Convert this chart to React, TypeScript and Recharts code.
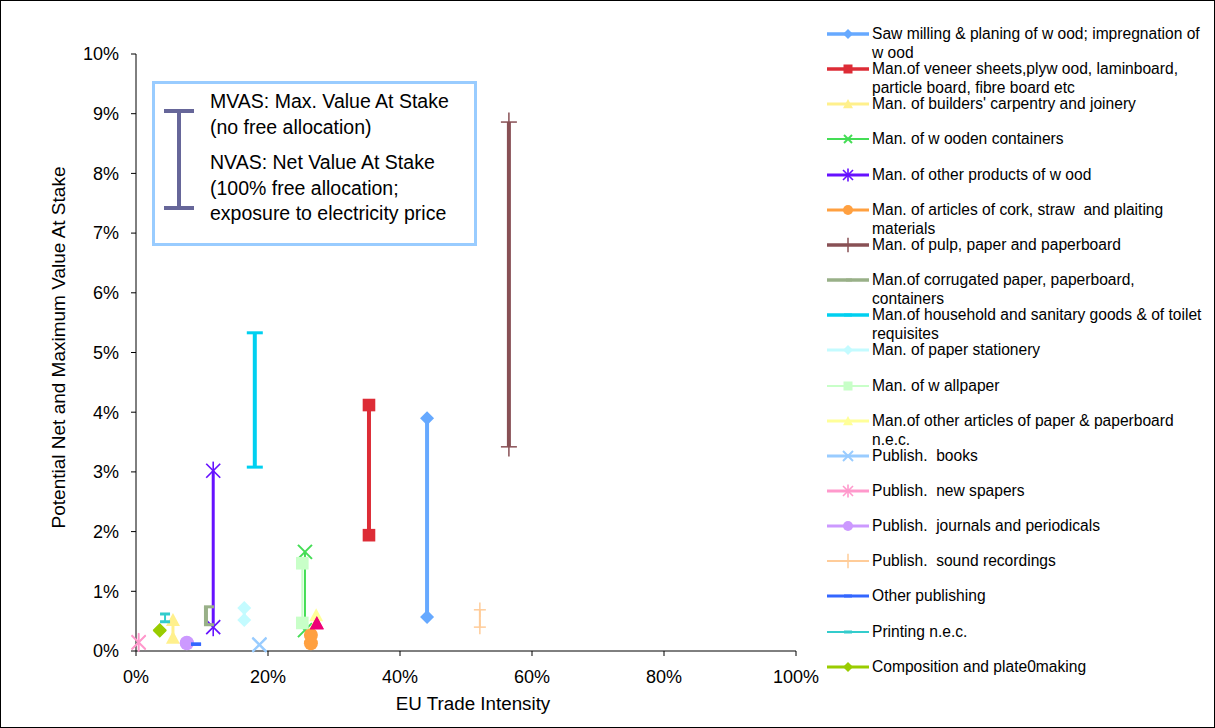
import React from "react"
import { ScatterChart, Scatter, XAxis, YAxis, Legend } from "recharts"

// sectors, as shown in the legend (last one has no legend entry)
const sectors = [
  "Saw milling & planing of w ood; impregnation of\nw ood",
  "Man.of veneer sheets,plyw ood, laminboard,\nparticle board, fibre board etc",
  "Man. of builders' carpentry and joinery",
  "Man. of w ooden containers",
  "Man. of other products of w ood",
  "Man. of articles of cork, straw  and plaiting\nmaterials",
  "Man. of pulp, paper and paperboard",
  "Man.of corrugated paper, paperboard,\ncontainers",
  "Man.of household and sanitary goods & of toilet\nrequisites",
  "Man. of paper stationery",
  "Man. of w allpaper",
  "Man.of other articles of paper & paperboard\nn.e.c.",
  "Publish.  books",
  "Publish.  new spapers",
  "Publish.  journals and periodicals",
  "Publish.  sound recordings",
  "Other publishing",
  "Printing n.e.c.",
  "Composition and plate0making",
  "",
]

const tradeIntensity = [
  0.441, 0.353, 0.056, 0.256, 0.117, 0.265, 0.565, 0.106, 0.18, 0.164,
  0.252, 0.273, 0.187, 0.004, 0.077, 0.521, 0.091, 0.044, 0.036, 0.274,
]
// NVAS (lower end) and MVAS (upper end)
const nvas = [
  0.0057, 0.0194, 0.0022, 0.0035, 0.004, 0.0013, 0.0342, 0.0044, 0.0308, 0.0052,
  0.0047, 0.0047, 0.001, 0.0014, 0.0013, 0.004, 0.0011, 0.0049, 0.0034, 0.0046,
]
const mvas = [
  0.039, 0.0412, 0.0052, 0.0166, 0.0302, 0.0027, 0.0886, 0.0074, 0.0533, 0.0072,
  0.0147, 0.006, 0.0011, 0.0015, 0.0014, 0.0069, 0.0012, 0.0062, 0.0035, 0.0047,
]

const xTicks = [0, 0.2, 0.4, 0.6, 0.8, 1]
const yTicks = [0, 0.01, 0.02, 0.03, 0.04, 0.05, 0.06, 0.07, 0.08, 0.09, 0.1]

const colors = [
  "#66a9ff", "#dd2c36", "#fff08c", "#44dd55", "#6611ff", "#ffa040", "#885055",
  "#99b088", "#00d0f0", "#c4fbff", "#c8ffc8", "#ffff99", "#99ccff", "#ff99cc",
  "#cc99ff", "#ffcc99", "#3366ff", "#33cccc", "#99cc00", "#ee0077",
]
const markers = [
  "diamond", "square", "triangle", "x", "star", "circle", "plus", "bracket",
  "dash", "diamond", "square", "triangle", "x", "star", "circle", "plus",
  "dash", "dash", "diamond", "triangle",
]
const lineWidths = [4, 4, 3, 2, 3, 3, 4, 4, 4, 3, 2, 3, 3, 3, 3, 2, 3, 2, 3, 3]

const font = "'Liberation Sans', Arial, sans-serif"

const Marker = ({ type, cx, cy, color, s }: any) => {
  switch (type) {
    case "diamond":
      return <polygon points={`${cx},${cy - s} ${cx + s},${cy} ${cx},${cy + s} ${cx - s},${cy}`} fill={color} />
    case "square":
      return <rect x={cx - s * 0.9} y={cy - s * 0.9} width={s * 1.8} height={s * 1.8} fill={color} />
    case "triangle":
      return <polygon points={`${cx},${cy - s} ${cx + s},${cy + s * 0.85} ${cx - s},${cy + s * 0.85}`} fill={color} />
    case "x":
      return (
        <g stroke={color} strokeWidth={2}>
          <line x1={cx - s} y1={cy - s} x2={cx + s} y2={cy + s} />
          <line x1={cx - s} y1={cy + s} x2={cx + s} y2={cy - s} />
        </g>
      )
    case "star":
      return (
        <g stroke={color} strokeWidth={1.6}>
          <line x1={cx - s} y1={cy - s} x2={cx + s} y2={cy + s} />
          <line x1={cx - s} y1={cy + s} x2={cx + s} y2={cy - s} />
          <line x1={cx} y1={cy - s * 1.3} x2={cx} y2={cy + s * 1.3} />
        </g>
      )
    case "circle":
      return <circle cx={cx} cy={cy} r={s} fill={color} />
    case "plus":
      return (
        <g stroke={color} strokeWidth={1.5}>
          <line x1={cx - s} y1={cy} x2={cx + s} y2={cy} />
          <line x1={cx} y1={cy - s * 1.2} x2={cx} y2={cy + s * 1.2} />
        </g>
      )
    case "bracket":
      return <rect x={cx - 2} y={cy - 1.5} width={s + 2} height={3} fill={color} />
    default:
      return <rect x={cx - s} y={cy - 1.5} width={s * 2} height={3} fill={color} />
  }
}

const legendMarkerSize = [5, 5, 5, 4, 5, 5, 6, 4, 4, 5, 5, 5, 5, 5, 5, 6, 4, 4, 5]

const LegendBox = () => (
  <div style={{ position: "relative", fontFamily: font, fontSize: 15.6, color: "#000" }}>
    {sectors.slice(0, 19).map((name, i) => {
      const cy = 33 + i * 35.15
      return (
        <div key={name} style={{ position: "absolute", left: 0, top: cy - 10 }}>
          <svg width={42} height={20} style={{ position: "absolute", left: 0, top: 0 }}>
            <line x1={0} y1={10} x2={42} y2={10} stroke={colors[i]} strokeWidth={Math.min(lineWidths[i], 3.5)} />
            <Marker type={markers[i]} cx={21} cy={10} color={colors[i]} s={legendMarkerSize[i]} />
          </svg>
          <div style={{ position: "absolute", left: 45, top: 0, lineHeight: "19px", whiteSpace: "pre" }}>{name}</div>
        </div>
      )
    })}
  </div>
)

const markerSize = [7, 7, 7, 7, 7, 7, 8, 8, 8, 7, 7, 7, 7, 7, 7, 6, 5, 5, 7, 7]

const pct = (v: number) => `${Math.round(v * 100)}%`

export default function App() {
  return (
    <div
      style={{
        position: "absolute",
        left: 0,
        top: 0,
        width: 1213,
        height: 726,
        border: "1px solid #000",
        background: "#fff",
        fontFamily: font,
      }}
    >
      <ScatterChart width={1213} height={726} margin={{ top: 53, right: 418, bottom: 0, left: 0 }}>
        <XAxis
          type="number"
          dataKey="x"
          domain={[0, 1]}
          ticks={xTicks}
          tickFormatter={pct}
          height={76}
          stroke="#000"
          tickSize={5}
          tickMargin={14}
          tick={{ fill: "#000", fontSize: 18, fontFamily: font }}
          label={{
            content: (p: any) => (
              <text
                x={p.viewBox.x + p.viewBox.width / 2 + 7}
                y={p.viewBox.y + 59}
                textAnchor="middle"
                fontSize={18.8}
                fontFamily={font}
                fill="#000"
              >
                EU Trade Intensity
              </text>
            ),
          }}
        />
        <YAxis
          type="number"
          dataKey="y"
          domain={[0, 0.1]}
          ticks={yTicks}
          tickFormatter={pct}
          width={135}
          stroke="#000"
          tickSize={5}
          tickMargin={12}
          tick={{ fill: "#000", fontSize: 18, fontFamily: font }}
          label={{
            content: (p: any) => {
              const x = 57
              const y = p.viewBox.y + p.viewBox.height / 2 - 5
              return (
                <text
                  x={x}
                  y={y}
                  transform={`rotate(-90 ${x} ${y})`}
                  textAnchor="middle"
                  dominantBaseline="central"
                  fontSize={19}
                  fontFamily={font}
                  fill="#000"
                >
                  Potential Net and Maximum Value At Stake
                </text>
              )
            },
          }}
        />
        {sectors.map((name, i) => (
          <Scatter
            key={i}
            name={name || "extra"}
            data={[
              { x: tradeIntensity[i], y: nvas[i] },
              { x: tradeIntensity[i], y: mvas[i] },
            ]}
            fill={colors[i]}
            line={{ stroke: colors[i], strokeWidth: lineWidths[i] }}
            isAnimationActive={false}
            shape={(p: any) => (
              <Marker type={markers[i]} cx={p.cx} cy={p.cy} color={colors[i]} s={markerSize[i]} />
            )}
          />
        ))}
        <Legend
          layout="vertical"
          align="center"
          verticalAlign="middle"
          wrapperStyle={{ left: 826, top: 0, width: 386, height: 720 }}
          content={() => <LegendBox />}
        />
      </ScatterChart>

      {/* MVAS / NVAS explanation box */}
      <div
        style={{
          position: "absolute",
          left: 151,
          top: 80,
          width: 319,
          height: 159,
          border: "3px solid #99ccff",
          background: "#fff",
          fontSize: 19.5,
          color: "#000",
        }}
      >
        <svg width={40} height={110} style={{ position: "absolute", left: 6, top: 22 }}>
          <g stroke="#666699" strokeWidth={4}>
            <line x1={3} y1={5} x2={33} y2={5} />
            <line x1={18} y1={5} x2={18} y2={102} />
            <line x1={3} y1={102} x2={33} y2={102} />
          </g>
        </svg>
        <div style={{ position: "absolute", left: 55, top: 5, lineHeight: "25.5px", whiteSpace: "pre" }}>
          {"MVAS: Max. Value At Stake\n(no free allocation)"}
        </div>
        <div style={{ position: "absolute", left: 55, top: 66, lineHeight: "25.5px", whiteSpace: "pre" }}>
          {"NVAS: Net Value At Stake\n(100% free allocation;\nexposure to electricity price"}
        </div>
      </div>
    </div>
  )
}
